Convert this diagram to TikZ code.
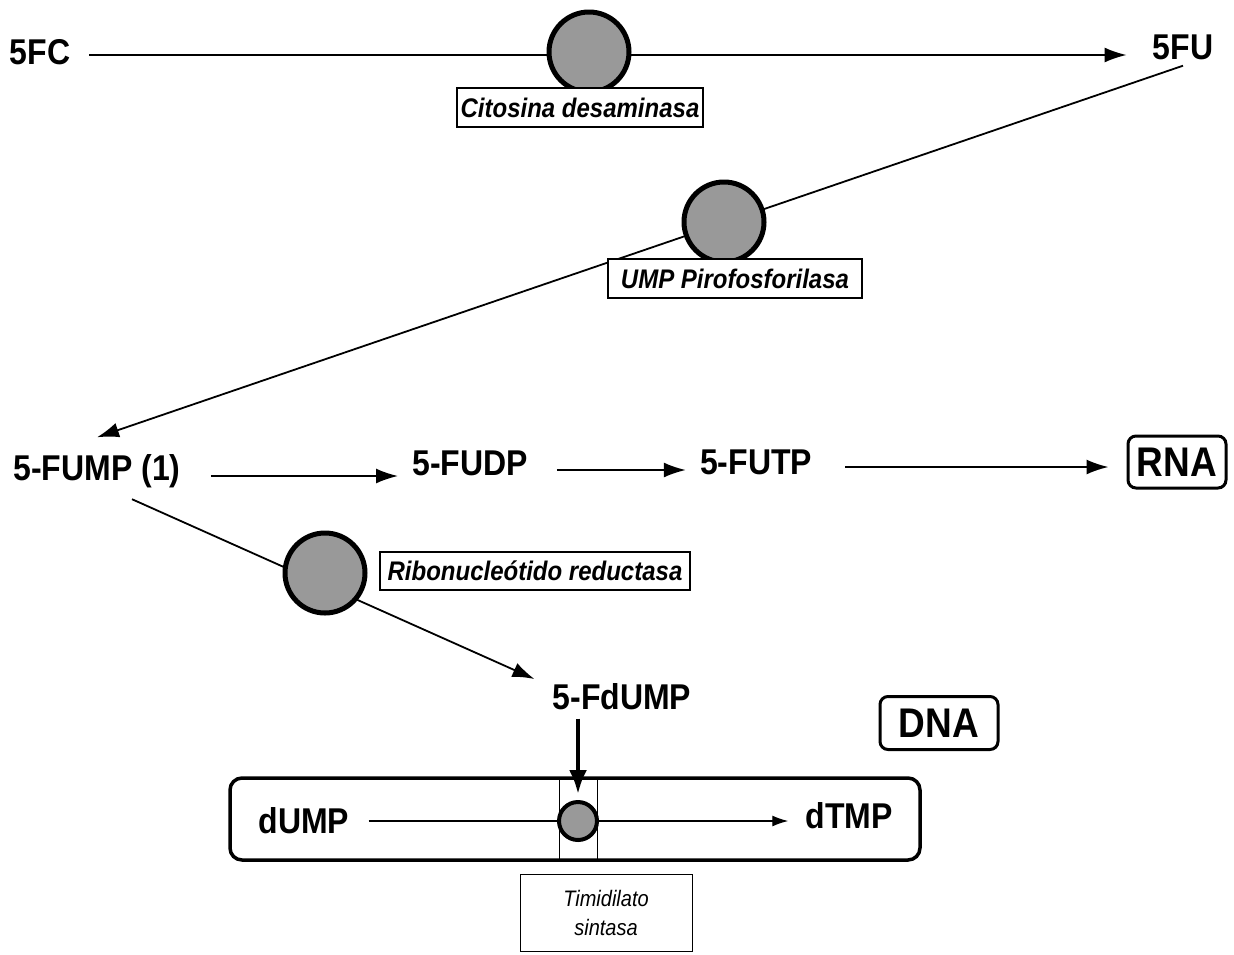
\documentclass[tikz,border=0pt]{standalone}
\usepackage{fontspec}
\setmainfont{Liberation Sans}
\usepackage{graphicx}
\usetikzlibrary{arrows.meta}
\newcommand{\stretched}[1]{\scalebox{1}[1.12]{#1}}
\tikzset{
  metab/.style={inner sep=0pt, text height=25pt, text depth=0pt, font=\fontsize{32}{32}\selectfont\bfseries},
  enzyme/.style={circle, draw, line width=5pt, fill=black!40, minimum size=80pt, inner sep=0pt},
  enzlabel/.style={draw, line width=1.2pt, fill=white, inner sep=0pt, font=\fontsize{24}{24}\selectfont\bfseries\itshape},
  target/.style={draw, rounded corners=8pt, line width=3pt, inner sep=0pt, font=\fontsize{37}{37}\selectfont\bfseries},
  flow/.style={line width=1.8pt, -{Latex[length=22pt,width=15pt]}},
  thinflow/.style={line width=1.3pt, -{Latex[length=16pt,width=11pt]}},
  inhib/.style={line width=4pt, -{Latex[length=24pt,width=18pt]}}
}
\begin{document}
\begin{tikzpicture}[x=1pt,y=-1pt]
\useasboundingbox (0,0) rectangle (1234,954);
% metabolites
\node[metab] (fc) at (40,52) {\stretched{5FC}};
\node[metab] (fu) at (1183,47) {\stretched{5FU}};
\node[metab] (fump) at (97,468) {\stretched{5-FUMP (1)}};
\node[metab] (fudp) at (470,463) {\stretched{5-FUDP}};
\node[metab] (futp) at (756,462) {\stretched{5-FUTP}};
\node[target, minimum width=98pt, minimum height=52pt] (rna) at (1177,462) {\stretched{RNA}};
\node[metab] (fdump) at (622,697) {\stretched{5-FdUMP}};
\node[target, minimum width=118pt, minimum height=53pt] (dna) at (939,723) {\stretched{DNA}};
% timidilato sintasa cycle
\node[draw, rounded corners=12pt, line width=3.5pt, minimum width=690pt, minimum height=82pt] (cycle) at (575,819) {};
\node[draw, line width=0.8pt, minimum width=38pt, minimum height=82pt] (tsband) at (578,819) {};
\node[enzyme, line width=4pt, minimum size=38pt] (ts) at (578,821) {};
\node[metab] (dump) at (304,821) {\stretched{dUMP}};
\node[metab] (dtmp) at (849,816) {\stretched{dTMP}};

% connectors
\draw[flow, shorten <=19pt, shorten >=26pt] ([yshift=-3pt]fc.east) -- ([yshift=-8pt]fu.west);
\draw[flow] ([yshift=-6pt]fu.south) -- ([yshift=18pt]fump.north);
\draw[flow, shorten <=30pt, shorten >=14pt] ([yshift=-8pt]fump.east) -- ([yshift=-13pt]fudp.west);
\draw[flow, shorten <=29pt, shorten >=14pt] ([yshift=-7pt]fudp.east) -- ([yshift=-8pt]futp.west);
\draw[flow, shorten <=33pt, shorten >=18pt] ([yshift=-5pt]futp.east) -- ([yshift=-5pt]rna.west);
\draw[flow] ([xshift=35pt,yshift=-18.5pt]fump.south) -- ([xshift=-18pt,yshift=18pt]fdump.west);
\draw[inhib, shorten <=9pt, shorten >=6pt] (ts.north |- fdump.south) -- (ts.north);
\draw[line width=1.3pt, shorten <=19pt] (dump.east) -- (ts.west);
\draw[thinflow, shorten >=17pt] (ts.east) -- ([yshift=-5pt]dtmp.west);

% enzymes
\node[enzyme] (cd) at (589,52) {};
\node[enzyme] (upp) at (724,222) {};
\node[enzyme] (rnr) at (325,573) {};
\node[enzlabel, minimum width=246pt, minimum height=39pt] (cdlab) at (580,107.5) {\stretched{Citosina desaminasa}};
\node[enzlabel, minimum width=254pt, minimum height=39pt] (upplab) at (735,278.5) {\stretched{UMP Pirofosforilasa}};
\node[enzlabel, minimum width=310pt, minimum height=38pt] (rnrlab) at (535,571) {\stretched{Ribonucleótido reductasa}};
\node[draw, line width=0.8pt, minimum width=172pt, minimum height=77pt, align=center, font=\fontsize{20}{29}\selectfont\itshape] (tslab) at (606,913) {\stretched{Timidilato}\\\stretched{sintasa}};
\end{tikzpicture}
\end{document}
